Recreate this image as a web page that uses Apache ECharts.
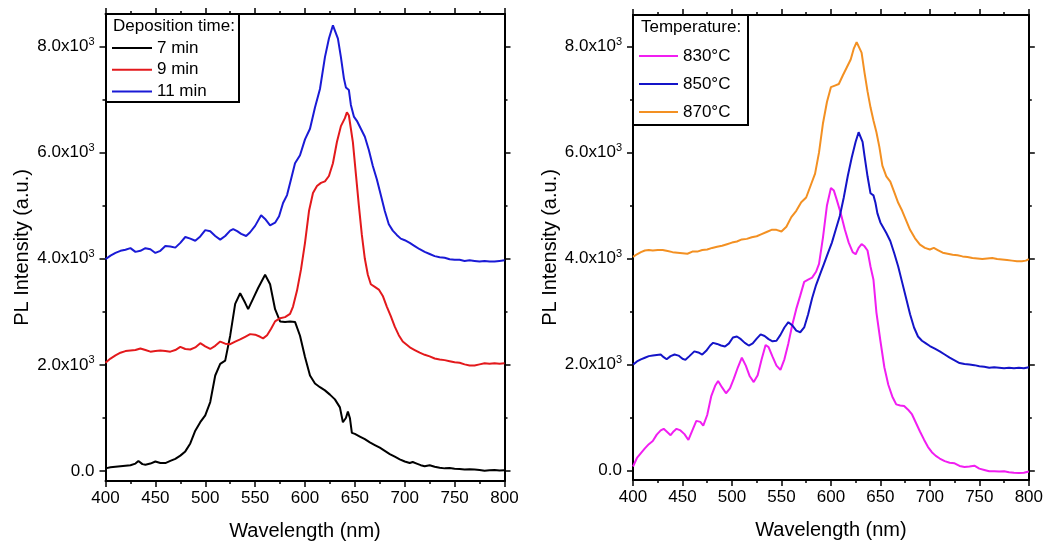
<!DOCTYPE html>
<html>
<head>
<meta charset="utf-8">
<script src="https://cdn.jsdelivr.net/npm/echarts@6/dist/echarts.min.js"></script>
<style>
  html, body { margin: 0; padding: 0; background: #fff; }
  #chart { width: 1046px; height: 547px; }
</style>
</head>
<body>
<div id="chart"></div>
<script>
// ---- Deposition time series (left panel) ----
const wl7 = [400,405,410,415,420,425,430,433,437,440,
             445,450,455,460,465,470,475,480,485,490,
             495,500,505,510,515,520,525,530,535,540,
             543,548,553,560,565,570,575,580,585,590,
             595,600,605,610,615,620,625,630,635,638,
             641,643,645,647,650,655,660,665,670,675,
             680,685,690,695,700,705,708,712,716,720,
             725,730,735,740,745,750,755,760,765,770,
             775,780,785,790,795,800];
const pl7 = [50,70,80,90,100,110,140,190,130,120,
             140,180,150,150,190,230,290,370,520,760,
             920,1050,1300,1800,2020,2080,2550,3150,3350,3170,
             3050,3250,3450,3700,3520,3050,2820,2810,2820,2810,
             2550,2150,1800,1650,1580,1520,1440,1350,1200,920,
             1000,1120,1000,720,700,650,600,540,490,440,
             380,320,270,220,180,150,170,140,110,90,
             110,80,60,50,55,45,40,30,35,30,
             20,5,15,20,10,15];

const wl9 = [400,405,410,415,420,425,430,435,440,445,
             450,455,460,465,470,475,480,485,490,495,
             500,505,510,515,520,525,530,535,540,545,
             550,555,558,562,566,570,575,580,585,588,
             592,596,600,604,608,612,616,620,624,628,
             632,636,640,642,644,646,648,651,654,657,
             660,663,666,670,674,678,682,686,690,694,
             698,702,706,710,715,720,725,730,735,740,
             745,750,755,760,765,770,775,780,785,790,
             795,800];
const pl9 = [2040,2120,2180,2230,2260,2270,2280,2310,2280,2250,
             2260,2270,2260,2250,2280,2340,2300,2290,2330,2410,
             2350,2300,2360,2440,2400,2390,2440,2480,2530,2580,
             2570,2530,2500,2560,2680,2820,2880,2900,2960,3100,
             3400,3800,4300,4900,5240,5370,5430,5460,5560,5800,
             6200,6500,6650,6760,6700,6450,6200,5600,5000,4450,
             4000,3700,3520,3470,3420,3300,3100,2920,2720,2560,
             2440,2380,2320,2280,2230,2190,2160,2120,2100,2090,
             2070,2050,2040,2010,1990,1990,2010,2030,2020,2030,
             2020,2030];

const wl11 = [400,405,410,415,420,425,430,435,440,445,
              450,455,460,465,470,475,480,485,490,495,
              500,505,510,515,520,525,528,532,536,541,
              545,550,556,560,565,570,574,578,582,586,
              590,595,600,605,610,615,620,624,628,630,
              633,636,639,641,644,646,649,652,656,660,
              664,668,672,676,680,684,688,692,696,700,
              705,710,715,720,725,730,735,740,745,750,
              755,760,765,770,775,780,785,790,795,800];
const pl11 = [3990,4060,4110,4150,4170,4200,4130,4150,4200,4180,
              4110,4150,4240,4230,4210,4300,4410,4380,4340,4420,
              4540,4520,4430,4360,4430,4530,4560,4520,4470,4430,
              4500,4620,4820,4750,4630,4680,4800,5050,5200,5500,
              5800,5950,6250,6450,6850,7200,7800,8150,8400,8390,
              8150,7800,7400,7230,7180,6900,6680,6600,6450,6300,
              6050,5750,5500,5200,4900,4650,4530,4450,4380,4350,
              4300,4240,4180,4130,4090,4050,4030,4020,3990,3980,
              3980,3960,3970,3960,3950,3960,3950,3950,3960,3970];

// ---- Growth temperature series (right panel) ----
const wl830 = [400,404,408,412,416,420,424,428,431,434,
               438,441,444,448,452,456,460,464,468,471,
               475,479,483,486,490,494,498,502,506,510,
               514,518,522,526,530,534,537,541,545,549,
               553,557,561,565,569,573,577,581,585,588,
               592,596,600,603,606,610,614,618,622,625,
               628,631,634,637,640,643,646,650,654,658,
               662,666,670,674,678,682,686,690,694,698,
               702,706,710,715,720,725,730,735,740,745,
               750,755,760,765,770,775,780,785,790,795,
               800];
const pl830 = [80,240,330,420,500,560,680,760,790,740,
               670,740,790,760,690,580,760,940,920,850,
               1050,1400,1600,1690,1570,1460,1550,1740,1950,2130,
               1980,1780,1670,1800,2100,2370,2330,2150,1980,1900,
               2100,2400,2750,3050,3300,3560,3600,3640,3750,3900,
               4400,5000,5330,5280,5100,4850,4550,4300,4120,4080,
               4200,4270,4230,4150,3850,3600,2980,2450,1950,1620,
               1400,1250,1230,1220,1150,1060,900,740,590,450,
               350,280,230,180,150,140,90,70,80,95,
               40,15,-10,-10,-15,-10,-30,-40,-45,-40,
               -15];

const wl850 = [400,404,408,412,416,420,424,428,431,434,
               438,442,446,450,453,457,462,466,470,474,
               478,481,485,489,493,497,501,505,509,513,
               517,521,525,529,533,537,541,545,549,553,
               557,561,565,569,573,577,581,585,589,593,
               597,601,605,609,613,617,621,625,628,630,
               632,634,637,640,643,645,647,650,653,656,
               660,664,668,672,676,680,684,688,692,696,
               700,705,710,715,720,725,730,735,740,745,
               750,755,760,765,770,775,780,785,790,795,
               800];
const pl850 = [2000,2060,2100,2130,2160,2170,2180,2190,2140,2100,
               2160,2190,2170,2110,2090,2160,2250,2230,2190,2260,
               2360,2410,2390,2360,2340,2400,2510,2530,2480,2410,
               2360,2400,2490,2570,2540,2480,2440,2450,2560,2700,
               2800,2740,2640,2610,2700,2950,3250,3500,3700,3900,
               4100,4300,4550,4800,5150,5550,5900,6200,6380,6400,
               6200,5930,5550,5230,5190,5050,4850,4680,4580,4480,
               4330,4100,3850,3550,3250,2950,2700,2530,2450,2400,
               2350,2300,2250,2190,2130,2080,2030,2010,2000,1990,
               1970,1960,1940,1950,1940,1930,1940,1930,1940,1930,
               1950];

const wl870 = [400,404,408,412,416,420,425,430,435,440,
               445,450,455,460,465,470,475,480,485,490,
               495,500,505,510,515,520,525,530,535,540,
               545,550,555,560,565,570,575,580,584,588,
               592,596,600,604,608,612,616,620,623,626,
               628,631,634,637,640,643,646,649,652,656,
               660,664,668,672,676,680,685,690,695,700,
               704,708,713,718,723,728,733,738,743,748,
               753,758,763,768,773,778,783,788,793,797,
               800];
const pl870 = [4030,4080,4120,4150,4160,4150,4160,4160,4140,4120,
               4110,4100,4090,4130,4130,4160,4170,4200,4220,4240,
               4270,4300,4320,4360,4370,4400,4420,4460,4500,4540,
               4540,4510,4600,4780,4900,5060,5150,5400,5600,6000,
               6550,6950,7230,7260,7290,7450,7600,7750,7950,8080,
               8080,7880,7500,7150,6850,6600,6380,6100,5750,5550,
               5450,5250,5050,4900,4720,4540,4380,4260,4200,4170,
               4200,4160,4110,4090,4070,4060,4040,4030,4010,4000,
               3990,4000,4010,3990,3980,3970,3960,3950,3950,3960,
               3990];

// ---- Axis ticks ----
const yMajor = [0, 2000, 4000, 6000, 8000];
const yMinor = [1000, 3000, 5000, 7000];

const FONT = 'Liberation Sans, Arial, sans-serif';
const toPairs = (xs, ys) => xs.map((x, i) => [x, ys[i]]);

const yLabel = v => v === 0 ? '{b|0.0}' : '{b|' + (v / 1000).toFixed(1) + 'x10}{s|3}';

const panels = [
  { left: 105.5, right: 541.5, top: 14, bottom: 66, ymin: -188, ymax: 8613 },
  { left: 633, right: 17, top: 15, bottom: 67, ymin: -175, ymax: 8590 }
];

const grid = panels.map(p => ({ left: p.left, right: p.right, top: p.top, bottom: p.bottom }));

const axisLineStyle = { show: true, onZero: false, lineStyle: { color: '#000', width: 2 } };
const tickStyle = { color: '#000', width: 1.5 };

const xAxis = [];
const yAxis = [];
panels.forEach((p, g) => {
  // bottom axis with labels
  xAxis.push({
    type: 'value', gridIndex: g, position: 'bottom', min: 400, max: 800, interval: 50,
    name: 'Wavelength (nm)', nameLocation: 'middle', nameGap: 40,
    nameTextStyle: { fontSize: 20, color: '#000', fontFamily: FONT },
    axisLine: axisLineStyle,
    axisTick: { show: true, inside: false, length: 6, lineStyle: tickStyle },
    minorTick: { show: true, splitNumber: 2, length: 3, lineStyle: tickStyle },
    axisLabel: { fontSize: 17, color: '#000', fontFamily: FONT, margin: 9 },
    splitLine: { show: false }
  });
  // top frame axis
  xAxis.push({
    type: 'value', gridIndex: g, position: 'top', min: 400, max: 800, interval: 50,
    axisLine: axisLineStyle,
    axisTick: { show: true, inside: false, length: 6, lineStyle: tickStyle },
    minorTick: { show: true, splitNumber: 2, length: 3, lineStyle: tickStyle },
    axisLabel: { show: false },
    splitLine: { show: false }
  });
  // left axis with labels
  yAxis.push({
    type: 'value', gridIndex: g, position: 'left', min: p.ymin, max: p.ymax,
    name: 'PL Intensity (a.u.)', nameLocation: 'middle', nameGap: 73,
    nameTextStyle: { fontSize: 20, color: '#000', fontFamily: FONT },
    axisLine: axisLineStyle,
    axisTick: { show: true, inside: false, length: 6, customValues: yMajor, lineStyle: tickStyle },
    axisLabel: {
      customValues: yMajor, margin: 11, formatter: yLabel,
      rich: {
        b: { fontSize: 17, color: '#000', fontFamily: FONT },
        s: { fontSize: 11, color: '#000', fontFamily: FONT, verticalAlign: 'top', padding: [0, 0, 9, 0] }
      }
    },
    splitLine: { show: false }
  });
  // right frame axis
  yAxis.push({
    type: 'value', gridIndex: g, position: 'right', min: p.ymin, max: p.ymax,
    axisLine: axisLineStyle,
    axisTick: { show: true, inside: false, length: 6, customValues: yMajor, lineStyle: tickStyle },
    axisLabel: { show: false },
    splitLine: { show: false }
  });
  // minor ticks, left and right
  ['left', 'right'].forEach(pos => {
    yAxis.push({
      type: 'value', gridIndex: g, position: pos, min: p.ymin, max: p.ymax,
      axisLine: { show: false, onZero: false },
      axisTick: { show: true, inside: false, length: 3, customValues: yMinor, lineStyle: tickStyle },
      axisLabel: { show: false },
      splitLine: { show: false }
    });
  });
});

const line = (name, g, xs, ys, color) => ({
  name, type: 'line', xAxisIndex: g * 2, yAxisIndex: g * 4,
  data: toPairs(xs, ys), showSymbol: false, symbol: 'none', smooth: false,
  lineStyle: { color, width: 2 }, itemStyle: { color }, z: 3
});

const series = [
  line('7 min', 0, wl7, pl7, '#000000'),
  line('9 min', 0, wl9, pl9, '#e3191c'),
  line('11 min', 0, wl11, pl11, '#1a1ad6'),
  line('830\u00B0C', 1, wl830, pl830, '#f11ef1'),
  line('850\u00B0C', 1, wl850, pl850, '#1414c8'),
  line('870\u00B0C', 1, wl870, pl870, '#f39022')
];

const legendText = { fontSize: 17, color: '#000', fontFamily: FONT, lineHeight: 20 };

const option = {
  animation: false,
  backgroundColor: '#fff',
  grid, xAxis, yAxis, series,
  legend: [
    {
      data: ['7 min', '9 min', '11 min'], orient: 'vertical', left: 112, top: 38, padding: 0,
      icon: 'rect', itemWidth: 40, itemHeight: 2, itemGap: 1.7,
      textStyle: legendText, selectedMode: false, z: 20
    },
    {
      data: ['830\u00B0C', '850\u00B0C', '870\u00B0C'], orient: 'vertical', left: 639, top: 46, padding: 0,
      icon: 'rect', itemWidth: 39, itemHeight: 2, itemGap: 8,
      textStyle: legendText, selectedMode: false, z: 20
    }
  ],
  graphic: [
    { type: 'rect', z: 15, shape: { x: 106, y: 14, width: 133, height: 88 },
      style: { fill: '#fff', stroke: '#000', lineWidth: 2 } },
    { type: 'text', z: 16, x: 113, y: 18,
      style: { text: 'Deposition time:', fontSize: 17, fontFamily: FONT, fill: '#000' } },
    { type: 'rect', z: 15, shape: { x: 633, y: 15, width: 115, height: 110 },
      style: { fill: '#fff', stroke: '#000', lineWidth: 2 } },
    { type: 'text', z: 16, x: 641, y: 19,
      style: { text: 'Temperature:', fontSize: 17, fontFamily: FONT, fill: '#000' } }
  ]
};

const chart = echarts.init(document.getElementById('chart'), null, { renderer: 'canvas' });
chart.setOption(option);
</script>
</body>
</html>
